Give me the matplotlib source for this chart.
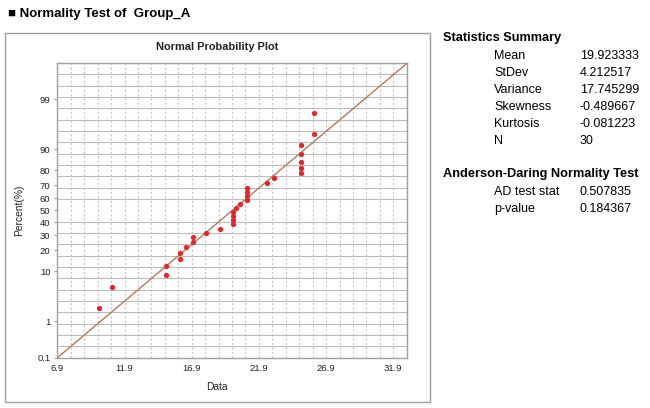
import numpy as np
import matplotlib
matplotlib.use('Agg')
import matplotlib.pyplot as plt
from matplotlib.patches import Rectangle
from statistics import NormalDist

plt.rcParams['font.family'] = ['Liberation Sans', 'DejaVu Sans']

# sample values (sorted)
data = [10, 11, 15, 15, 16, 16, 16.5, 17, 17, 18, 19, 20, 20, 20, 20, 20.2, 20.5,
        21, 21, 21, 21, 22.5, 23, 25, 25, 25, 25, 25, 26, 26]

y_ticks = [0.1, 1, 10, 20, 30, 40, 50, 60, 70, 80, 90, 99]
x_ticks = [6.9, 11.9, 16.9, 21.9, 26.9, 31.9]

stat_names = ['Mean', 'StDev', 'Variance', 'Skewness', 'Kurtosis', 'N']
stat_values = ['19.923333', '4.212517', '17.745299', '-0.489667', '-0.081223', '30']
ad_names = ['AD test stat', 'p-value']
ad_values = ['0.507835', '0.184367']

nd = NormalDist()
_ppf = np.vectorize(lambda p: nd.inv_cdf(p))
_cdf = np.vectorize(lambda z: nd.cdf(z))


def fwd(pct):
    p = np.clip(np.asarray(pct, dtype=float) / 100.0, 1e-9, 1 - 1e-9)
    return _ppf(p)


def inv(z):
    return _cdf(np.asarray(z, dtype=float)) * 100.0


W, H = 650, 408
fx = lambda px: px / W
fy = lambda py: 1 - py / H

fig = plt.figure(figsize=(6.5, 4.08), dpi=100)

# outer frame around the chart
fig.patches.append(Rectangle((fx(4.5), fy(401.5)), fx(429.5) - fx(4.5), fy(32.5) - fy(401.5),
                             transform=fig.transFigure, fill=False, edgecolor='#a0a0a0', lw=1))

ax = fig.add_axes([fx(57.3), fy(357.7), fx(407.3) - fx(57.3), fy(63) - fy(357.7)])
ax.set_yscale('function', functions=(fwd, inv))

n = len(data)
x = np.sort(np.array(data, dtype=float))
ranks = np.arange(1, n + 1)
pct = (ranks - 0.375) / (n + 0.25) * 100  # Blom plotting positions

mean = x.mean()
sd = x.std(ddof=1)
ylo, yhi = 0.1, 99.9
zl = fwd([ylo, yhi])
xl = mean + sd * zl

ax.set_xlim(xl[0], xl[1])
ax.set_ylim(ylo, yhi)

# grid: 26 equal divisions each way
xgrid = x_ticks[0] + np.arange(0, 27)
ygrid = inv(np.linspace(zl[0], zl[1], 27))
ax.set_xticks(xgrid, minor=True)
ax.set_yticks(ygrid, minor=True)
ax.set_xticks(x_ticks)
ax.set_xticklabels([f'{v:g}' for v in x_ticks])
ax.set_yticks(y_ticks)
ax.set_yticklabels([f'{v:g}' for v in y_ticks])

ax.grid(which='both', axis='x', color='#c4c4c4', lw=0.8, ls=(0, (2, 2)))
ax.grid(which='minor', axis='y', color='#bcbcbc', lw=0.8)
ax.tick_params(axis='x', which='both', length=0, labelsize=6.8, pad=4.5, colors='#222222')
ax.tick_params(axis='y', which='minor', length=0)
ax.tick_params(axis='y', which='major', length=2, width=0.8, color='#a0a0a0',
               labelsize=6.8, pad=3, labelcolor='#222222')
for s in ax.spines.values():
    s.set_color('#a0a0a0')
    s.set_linewidth(1)
ax.set_axisbelow(True)

ax.plot(xl, [ylo, yhi], color='#b47a58', lw=1, zorder=3)
ax.plot(x, pct, 'o', color='#e3262b', ms=3.8, mec='none', zorder=4)

fig.text(fx(8), fy(14), '\u25a0 Normality Test of  Group_A', fontsize=9.5, fontweight='bold',
         ha='left', va='center')
fig.text(fx(216.7), fy(47), 'Normal Probability Plot', fontsize=7.9, fontweight='bold',
         ha='center', va='center', color='#222222')
fig.text(fx(216.7), fy(386.7), 'Data', fontsize=7.4, ha='center', va='center', color='#222222')
fig.text(fx(19), fy(210), 'Percent(%)', fontsize=7.4, rotation=90, ha='center', va='center',
         color='#222222')

# statistics panel
fig.text(fx(443), fy(38.3), 'Statistics Summary', fontsize=9.2, fontweight='bold',
         ha='left', va='center')
for i, (nm, vl) in enumerate(zip(stat_names, stat_values)):
    yy = 56 + i * 17
    fig.text(fx(494), fy(yy), nm, fontsize=9, ha='left', va='center')
    fig.text(fx(580), fy(yy), vl, fontsize=9, ha='left', va='center')

fig.text(fx(443), fy(174.3), 'Anderson-Daring Normality Test', fontsize=9.2, fontweight='bold',
         ha='left', va='center')
for i, (nm, vl) in enumerate(zip(ad_names, ad_values)):
    yy = 192.3 + i * 17
    fig.text(fx(494), fy(yy), nm, fontsize=9, ha='left', va='center')
    fig.text(fx(580), fy(yy), vl, fontsize=9, ha='left', va='center')

fig.savefig('out.png', dpi=100)
